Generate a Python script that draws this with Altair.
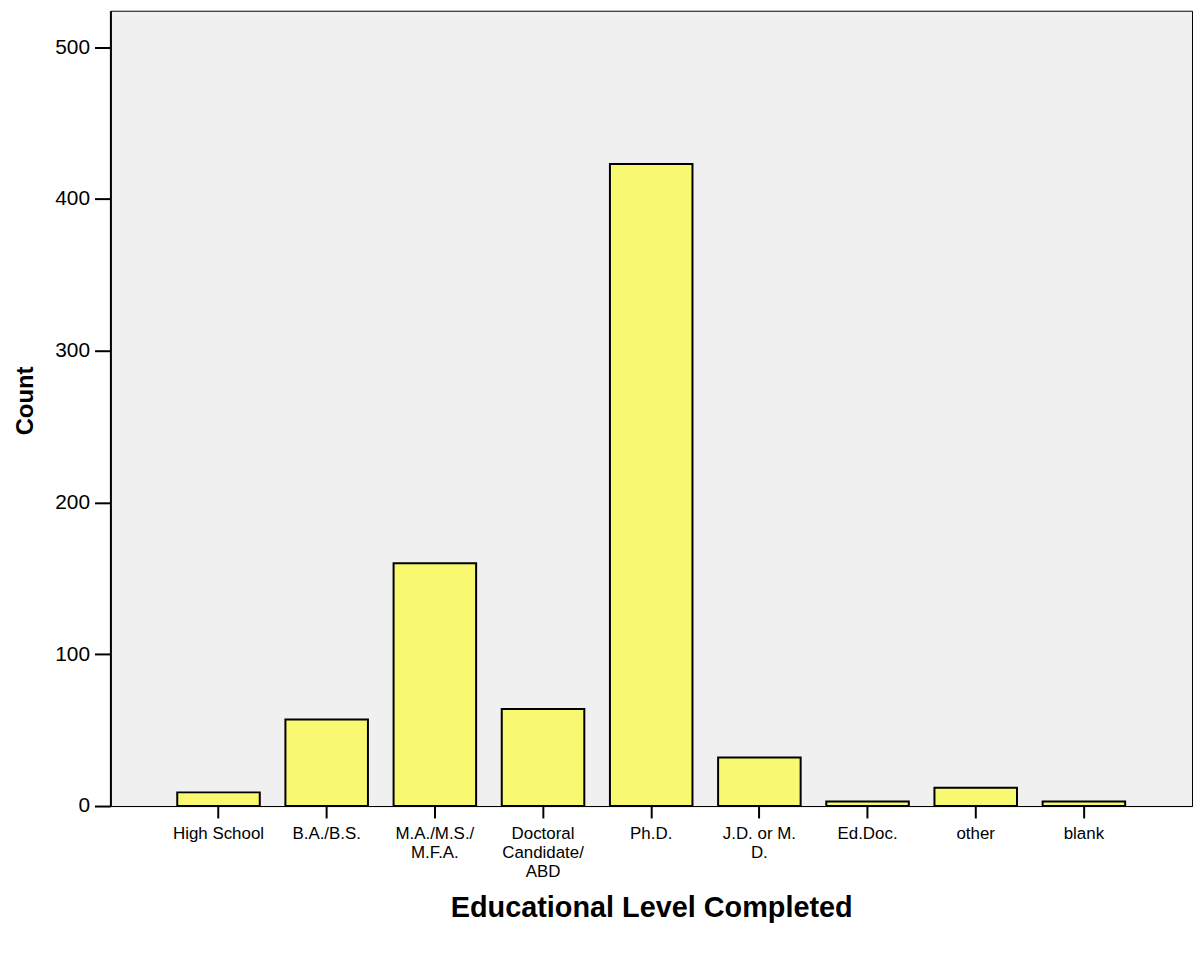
import altair as alt
import pandas as pd

categories = ["High School", "B.A./B.S.", "M.A./M.S./\nM.F.A.", "Doctoral\nCandidate/\nABD",
              "Ph.D.", "J.D. or M.\nD.", "Ed.Doc.", "other", "blank"]
counts = [9, 57, 160, 64, 423, 32, 3, 12, 3]
y_ticks = [0, 100, 200, 300, 400, 500]

df = pd.DataFrame({"level": categories, "count": counts})

FONT = "Liberation Sans"

chart = alt.Chart(df).mark_bar(fill="#f9f871", stroke="#000000", strokeWidth=2).encode(
    x=alt.X(
        "level:N",
        sort=categories,
        scale=alt.Scale(paddingInner=0.237, paddingOuter=0.618),
        axis=alt.Axis(
            title="Educational Level Completed",
            labelAngle=0,
            labelExpr="split(datum.label, '\\n')",
            labelFont=FONT,
            labelFontSize=17,
            labelLineHeight=19,
            labelColor="#000000",
            labelPadding=8,
            tickSize=12,
            tickWidth=2,
            tickColor="#000000",
            domainColor="#000000",
            domainWidth=1,
            grid=False,
            titleFont=FONT,
            titleFontSize=29,
            titleFontWeight="bold",
            titleColor="#000000",
            titleX=544,
            titleY=102,
            titleAlign="center",
            titleBaseline="middle",
        ),
    ),
    y=alt.Y(
        "count:Q",
        scale=alt.Scale(domain=[0, 524], nice=False),
        axis=alt.Axis(
            title="Count",
            values=y_ticks,
            labelFont=FONT,
            labelFontSize=21,
            labelColor="#000000",
            labelPadding=5,
            tickSize=16,
            tickWidth=2,
            tickColor="#000000",
            domainColor="#000000",
            domainWidth=2,
            grid=False,
            titleFont=FONT,
            titleFontSize=24,
            titleFontWeight="bold",
            titleColor="#000000",
            titleAngle=270,
            titleX=-78,
            titleY=392,
            titleAlign="center",
            titleBaseline="alphabetic",
        ),
    ),
).properties(
    width=1088,
    height=800,
    autosize=alt.AutoSizeParams(type="none"),
    padding={"left": 103, "top": 0, "right": 2, "bottom": 130},
).configure_view(
    stroke="#000000",
    strokeWidth=1,
    fill="#f0f0f0",
)

chart.save("out.html", embed_options={"renderer": "svg", "actions": False})
